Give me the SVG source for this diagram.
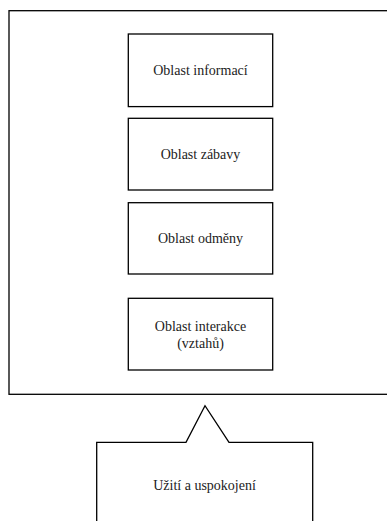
<svg xmlns="http://www.w3.org/2000/svg" width="387" height="521" viewBox="0 0 387 521">
<style>
.b{fill:#fff;stroke:#000;stroke-width:1.3}
text{font-family:'Liberation Serif','Times New Roman',Times,serif;font-size:14px;fill:#222;text-anchor:middle;dominant-baseline:central}
</style>
<rect width="387" height="521" fill="#fff"/>
<g id="outer"><rect class="b" x="9" y="10.7" width="390" height="383.6"/></g>
<g id="n1"><rect class="b" x="128.3" y="34" width="144.4" height="72.6"/><text x="200.5" y="70.5" font-family="Liberation Serif, serif">Oblast informací</text></g>
<g id="n2"><rect class="b" x="128.3" y="118.3" width="144.4" height="71.7"/><text x="200.5" y="154.5">Oblast zábavy</text></g>
<g id="n3"><rect class="b" x="128.3" y="202.7" width="144.4" height="71.3"/><text x="200.5" y="238.5">Oblast odměny</text></g>
<g id="n4"><rect class="b" x="128.3" y="298.3" width="144.4" height="71.7"/><text x="200.5" y="326.5">Oblast interakce</text><text x="200.5" y="343.5">(vztahů)</text></g>
<g id="callout"><path class="b" d="M96.7,530 V442.3 H186 L205,405.7 L229,442.3 H312.7 V530"/><text x="204.5" y="485.5">Užití a uspokojení</text></g>
<g id="connectors"></g>
</svg>
